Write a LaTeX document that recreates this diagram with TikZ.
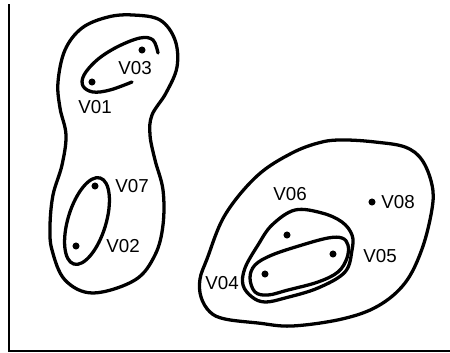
\documentclass[tikz,border=0pt]{standalone}
\usepackage{fontspec}
\setmainfont{Liberation Sans}
\begin{document}
\begin{tikzpicture}[
	x=0.03cm, y=-0.03cm,
	every node/.style={font=\fontsize{16}{16}\selectfont},
	vertex/.style={shape=circle, fill=black, inner sep=0pt, minimum size=6pt},
	cluster/.style={line width=2.8pt, line join=round, line cap=round},
]
\useasboundingbox (0,0) rectangle (450,352);
\draw[line width=1.6pt] (9,4) -- (9,351) -- (450,351);

% left group
\draw[cluster] plot[smooth cycle, tension=0.6] coordinates {
	(133,15) (160,20) (175,40) (177,67) (166,93) (152,115) (150,135) (155,160)
	(163,190) (163,225) (155,255) (135,280) (93,293) (65,280) (52,250) (50,226)
	(53,195) (62,165) (66,135) (60,108) (58,82) (65,50) (82,28) (108,17)};
\draw[cluster] plot[smooth, tension=0.6] coordinates {
	(132,82) (110,90) (93,92) (83,86) (84,75) (97,60) (117,47) (140,38) (153,40) (158,53)};
\draw[cluster, rotate around={73:(87,221)}] (87,221) ellipse (45 and 19);

\node[vertex] (v03) at (142,50) {};
\node[vertex] (v01) at (92,82) {};
\node[vertex] (v07) at (95,186) {};
\node[vertex] (v02) at (76,246) {};
\node (l03) at (135,68) {V03};
\node (l01) at (95,107) {V01};
\node (l07) at (132,186) {V07};
\node (l02) at (123,246) {V02};

% right group
\draw[cluster] plot[smooth cycle, tension=0.6] coordinates {
	(345,140) (375,142) (405,147) (422,160) (432,185) (432,209) (422,249) (405,283)
	(378,306) (342,319) (292,326) (258,323) (225,319) (210,312) (201,297) (200,279)
	(207,259) (225,215) (257,176) (292,153) (322,142)};
\draw[cluster] plot[smooth cycle, tension=0.6] coordinates {
	(295,210) (322,213) (342,222) (352,235) (352,250) (345,272) (318,288) (285,298)
	(265,302) (252,297) (243,285) (245,268) (258,245) (272,225)};
\draw[cluster] plot[smooth cycle, tension=0.6] coordinates {
	(342,238) (348,245) (347,258) (338,272) (318,282) (288,290) (268,295) (255,292)
	(250,278) (255,265) (272,255) (302,245) (328,238)};

\node[vertex] (v06) at (287,235) {};
\node[vertex] (v05) at (333,254) {};
\node[vertex] (v04) at (265,274) {};
\node[vertex] (v08) at (372,202) {};
\node (l06) at (290,194) {V06};
\node (l05) at (380,256) {V05};
\node (l04) at (222,283) {V04};
\node (l08) at (398,202) {V08};
\end{tikzpicture}
\end{document}
